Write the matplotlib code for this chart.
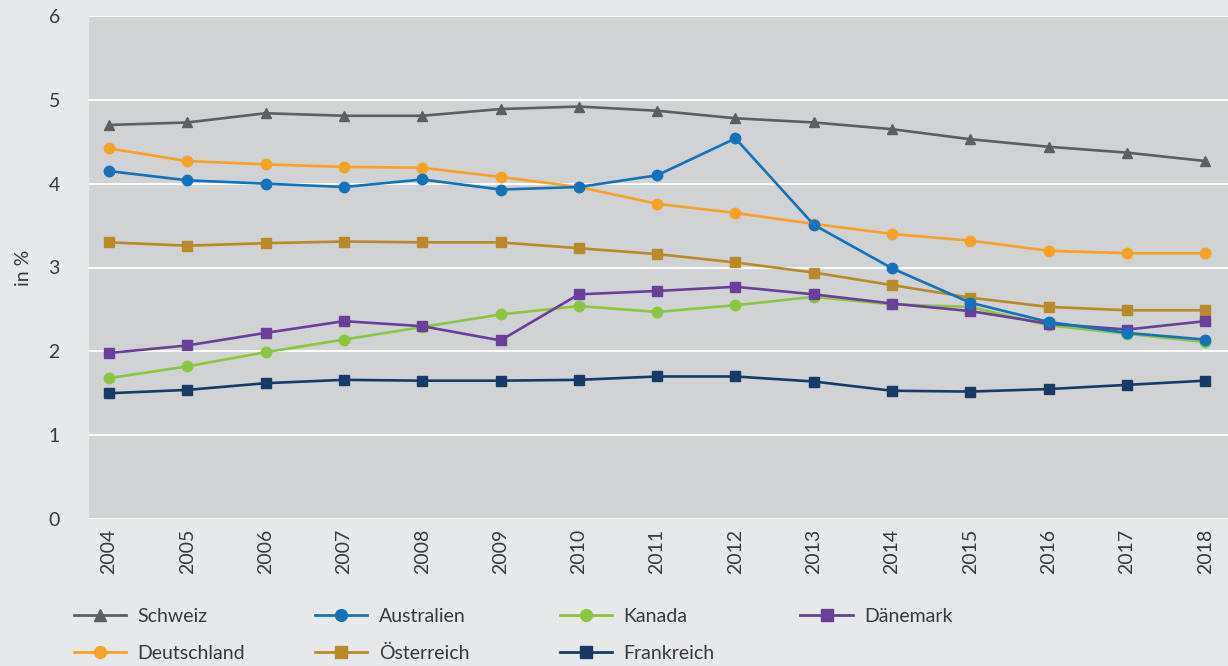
import matplotlib.pyplot as plt
from matplotlib.lines import Line2D

plt.rcParams["font.family"] = ["Lato", "DejaVu Sans"]

years = list(range(2004, 2019))

schweiz = [4.70, 4.73, 4.84, 4.81, 4.81, 4.89, 4.92, 4.87, 4.78, 4.73, 4.65, 4.53, 4.44, 4.37, 4.27]
australien = [4.15, 4.04, 4.00, 3.96, 4.05, 3.93, 3.96, 4.10, 4.54, 3.51, 2.99, 2.58, 2.35, 2.22, 2.14]
kanada = [1.68, 1.82, 1.99, 2.14, 2.29, 2.44, 2.54, 2.47, 2.55, 2.65, 2.56, 2.53, 2.31, 2.21, 2.11]
daenemark = [1.98, 2.07, 2.22, 2.36, 2.30, 2.13, 2.68, 2.72, 2.77, 2.68, 2.57, 2.48, 2.33, 2.26, 2.36]
deutschland = [4.42, 4.27, 4.23, 4.20, 4.19, 4.08, 3.96, 3.76, 3.65, 3.52, 3.40, 3.32, 3.20, 3.17, 3.17]
oesterreich = [3.30, 3.26, 3.29, 3.31, 3.30, 3.30, 3.23, 3.16, 3.06, 2.94, 2.79, 2.64, 2.53, 2.49, 2.49]
frankreich = [1.50, 1.54, 1.62, 1.66, 1.65, 1.65, 1.66, 1.70, 1.70, 1.64, 1.53, 1.52, 1.55, 1.60, 1.65]

series = {
    "Schweiz": (schweiz, "#5b5e63", "^"),
    "Australien": (australien, "#1272bb", "o"),
    "Kanada": (kanada, "#8cc53f", "o"),
    "Dänemark": (daenemark, "#6a3f99", "s"),
    "Deutschland": (deutschland, "#f8a127", "o"),
    "Österreich": (oesterreich, "#b98b28", "s"),
    "Frankreich": (frankreich, "#173b66", "s"),
}
# back to front
draw_order = ["Schweiz", "Deutschland", "Österreich", "Kanada", "Dänemark", "Australien", "Frankreich"]
# legend columns, as in the reference (row-wise reading)
legend_cols = [["Schweiz", "Deutschland"], ["Australien", "Österreich"],
               ["Kanada", "Frankreich"], ["Dänemark"]]
legend_x = [56, 297, 542, 783]

TEXT = "#3a3a3a"
W, H = 1228, 666

fig = plt.figure(figsize=(W / 100, H / 100), dpi=100, facecolor="#e7e8ea")
ax = fig.add_axes([89 / W, 1 - 519 / H, 1 - 89 / W, (519 - 16) / H])
ax.set_facecolor("#d1d2d4")

for z, name in enumerate(draw_order):
    vals, col, mk = series[name]
    ax.plot(years, vals, color=col, marker=mk, markersize=7.5 if mk != "^" else 7,
            linewidth=1.9, zorder=3 + z, clip_on=False)

ax.set_xlim(2003.745, 2018.29)
ax.set_ylim(0, 6)
ax.set_yticks(range(0, 7))
ax.yaxis.grid(True, color="white", linewidth=1.5)
ax.set_axisbelow(True)
for sp in ax.spines.values():
    sp.set_visible(False)
ax.set_xticks(years)
ax.set_xticklabels([str(y) for y in years], rotation=90, fontsize=14, color=TEXT)
ax.tick_params(axis="both", length=0)
ax.tick_params(axis="x", pad=7)
ax.tick_params(axis="y", labelsize=14, labelcolor=TEXT, pad=21)
ax.set_ylabel("in %", fontsize=14, color=TEXT, labelpad=12)

for names, x in zip(legend_cols, legend_x):
    hs = [Line2D([], [], color=series[n][1], marker=series[n][2], markersize=8.5, linewidth=2)
          for n in names]
    fig.legend(hs, names, loc="upper left", bbox_to_anchor=(x / W, 1 - 590 / H),
               frameon=False, fontsize=14, labelcolor=TEXT, handlelength=2.7,
               labelspacing=1.05, handletextpad=0.6)

fig.savefig("out.png", dpi=100, facecolor=fig.get_facecolor())
